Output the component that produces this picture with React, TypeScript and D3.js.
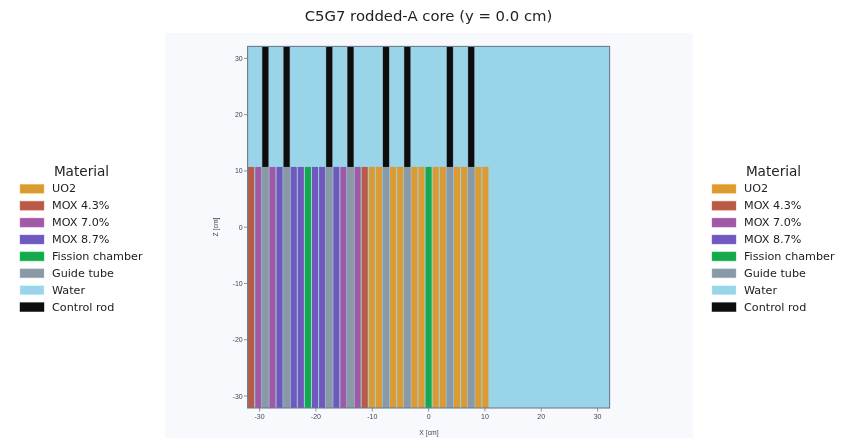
import React from "react";
import * as d3 from "d3";

const title = "C5G7 rodded-A core (y = 0.0 cm)";
const legendTitle = "Material";
const materials = ["UO2", "MOX 4.3%", "MOX 7.0%", "MOX 8.7%", "Fission chamber", "Guide tube", "Water", "Control rod"];
const materialColors = ["#dc9a33", "#b85a45", "#a05aa5", "#7058bd", "#18a84e", "#8a99a6", "#9ad4e8", "#111111"];
// Pin row at y = 0, left to right (17 MOX-assembly cells, then 17 UO2-assembly cells)
const pinRow = [
  "MOX 4.3%", "MOX 7.0%", "Guide tube", "MOX 7.0%", "MOX 8.7%", "Guide tube", "MOX 8.7%", "MOX 8.7%", "Fission chamber",
  "MOX 8.7%", "MOX 8.7%", "Guide tube", "MOX 8.7%", "MOX 7.0%", "Guide tube", "MOX 7.0%", "MOX 4.3%",
  "UO2", "UO2", "Guide tube", "UO2", "UO2", "Guide tube", "UO2", "UO2", "Fission chamber",
  "UO2", "UO2", "Guide tube", "UO2", "UO2", "Guide tube", "UO2", "UO2",
];
const rodCells = [2, 5, 11, 14, 19, 22, 28, 31];
const xTicks = [-30, -20, -10, 0, 10, 20, 30];
const yTicks = [-30, -20, -10, 0, 10, 20, 30];
const domainHalf = 32.13;
const pitch = 1.26;
const fuelTop = 10.71;
const pinRadius = 0.54;
const tubeRadius = 0.612;

const color = d3.scaleOrdinal<string, string>().domain(materials).range(materialColors);
const x = d3.scaleLinear().domain([-domainHalf, domainHalf]).range([247.6, 609.6]);
const y = d3.scaleLinear().domain([-domainHalf, domainHalf]).range([408, 46.4]);
const sans = "'DejaVu Sans', sans-serif";
const tickFont = "'Liberation Sans', Arial, sans-serif";
const frame = "#6e7b8c";
const tickInk = "#3e4754";

function Legend({ left }: { left: number }) {
  return (
    <g>
      <text x={left + 61.5} y={175.5} textAnchor="middle" fontFamily={sans} fontSize={13.6} fill="#222">{legendTitle}</text>
      {materials.map((m, i) => (
        <g key={m}>
          <rect x={left} y={184.3 + i * 16.9} width={24} height={9} fill={color(m)} stroke={d3.color(color(m))!.brighter(0.6).formatHex()} strokeOpacity={0.5} strokeWidth={0.8} />
          <text x={left + 32} y={192.2 + i * 16.9} fontFamily={sans} fontSize={11.2} fill="#222">{m}</text>
        </g>
      ))}
    </g>
  );
}

export default function App() {
  const cellLeft = (i: number) => -domainHalf + i * pitch;
  return (
    <svg width={849} height={438} style={{ position: "absolute", left: 0, top: 0, background: "#fff" }}>
      <defs>
        <filter id="soft" x="-5%" y="-5%" width="110%" height="110%"><feGaussianBlur stdDeviation="0.55" /></filter>
      </defs>
      <g filter="url(#soft)">
        <rect x={165} y={33} width={528} height={405} fill="#f8f9fd" />
        <text x={428.5} y={20.5} textAnchor="middle" fontFamily={sans} fontSize={14.85} fill="#222">{title}</text>
        <Legend left={20} />
        <Legend left={712} />
        <rect x={x(-domainHalf)} y={y(domainHalf)} width={x(domainHalf) - x(-domainHalf)} height={y(-domainHalf) - y(domainHalf)} fill={color("Water")} />
        {pinRow.map((m, i) => {
          const c = cellLeft(i) + pitch / 2;
          const r = m === "Guide tube" ? tubeRadius : pinRadius;
          return <rect key={i} x={x(c - r)} y={y(fuelTop)} width={x(c + r) - x(c - r)} height={y(-domainHalf) - y(fuelTop)} fill={color(m)} />;
        })}
        {rodCells.map((i) => {
          const c = cellLeft(i) + pitch / 2;
          return (
            <g key={i}>
              <rect x={x(c - tubeRadius)} y={y(domainHalf)} width={x(c + tubeRadius) - x(c - tubeRadius)} height={y(fuelTop) - y(domainHalf)} fill={color("Guide tube")} />
              <rect x={x(c - pinRadius)} y={y(domainHalf)} width={x(c + pinRadius) - x(c - pinRadius)} height={y(fuelTop) - y(domainHalf)} fill={color("Control rod")} />
            </g>
          );
        })}
        <rect x={x(-domainHalf)} y={y(domainHalf)} width={x(domainHalf) - x(-domainHalf)} height={y(-domainHalf) - y(domainHalf)} fill="none" stroke={frame} strokeWidth={1.1} />
        {xTicks.map((t) => (
          <g key={t}>
            <line x1={x(t)} x2={x(t)} y1={408} y2={411.5} stroke={frame} strokeWidth={0.8} />
            <text x={x(t)} y={419} textAnchor="middle" fontFamily={tickFont} fontSize={7} fill={tickInk}>{t}</text>
          </g>
        ))}
        {yTicks.map((t) => (
          <g key={t}>
            <line x1={244} x2={247.6} y1={y(t)} y2={y(t)} stroke={frame} strokeWidth={0.8} />
            <text x={242.7} y={y(t) + 2.5} textAnchor="end" fontFamily={tickFont} fontSize={7} fill={tickInk}>{t}</text>
          </g>
        ))}
        <text x={429} y={435} textAnchor="middle" fontFamily={tickFont} fontSize={6.8} fill={tickInk}>X [cm]</text>
        <text transform={`translate(217.5,227) rotate(-90)`} textAnchor="middle" fontFamily={tickFont} fontSize={6.8} fill={tickInk}>Z [cm]</text>
      </g>
    </svg>
  );
}
